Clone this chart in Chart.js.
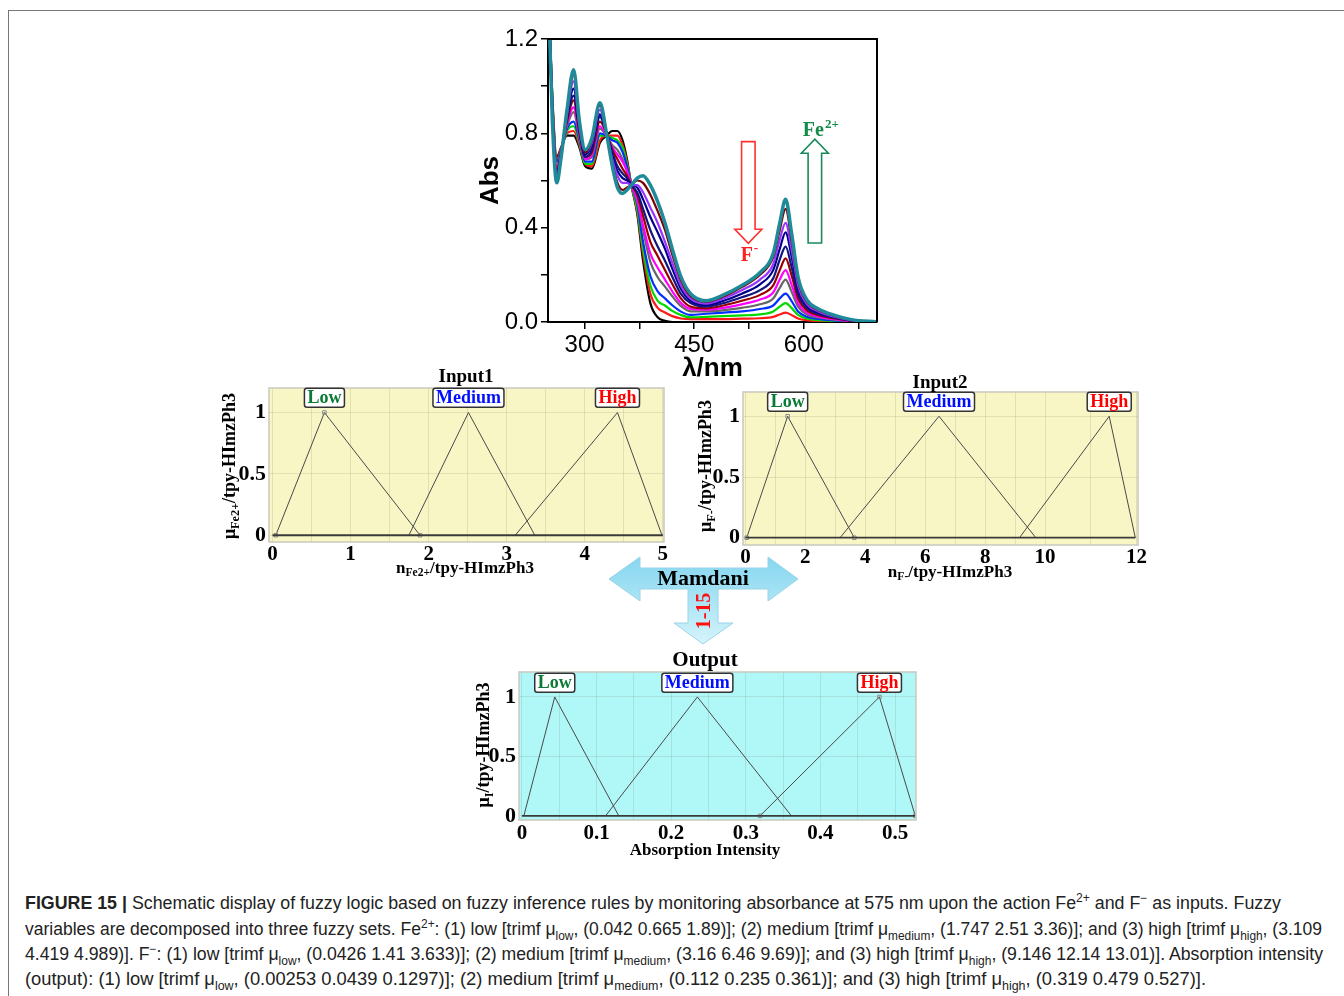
<!DOCTYPE html>
<html>
<head>
<meta charset="utf-8">
<script src="https://cdn.jsdelivr.net/npm/chart.js@4.4.1/dist/chart.umd.min.js"></script>
<style>
html, body { margin: 0; padding: 0; background: #fff; }
body { width: 1344px; height: 996px; position: relative; overflow: hidden; font-family: "Liberation Serif", serif; }
.box { position: absolute; }
.frameT { position: absolute; left: 8px; top: 10px; right: 0; height: 0; border-top: 1.5px solid #777; }
.frameL { position: absolute; left: 8px; top: 10px; bottom: 0; width: 0; border-left: 1.5px solid #777; }
.t { position: absolute; font-weight: bold; white-space: nowrap; color: #000; line-height: 1; z-index: 5; }
.ctr { transform: translate(-50%, -50%); }
.rot { transform: translate(-50%, -50%) rotate(-90deg); }
.t sub { font-size: 68%; vertical-align: -0.3em; line-height: 0; }
.cap { position: absolute; left: 25px; white-space: nowrap; font-family: "Liberation Sans", sans-serif; font-size: 17.5px; line-height: 22px; color: #222; transform-origin: 0 50%; }
.cap sup, .cap sub { font-size: 68%; line-height: 0; }
svg { position: absolute; left: 0; top: 0; z-index: 3; }
</style>
</head>
<body>
<div class="frameT"></div>
<div class="frameL"></div>

<div class="box" style="left:470px;top:20px;width:420px;height:370px"><canvas id="spec" width="420" height="370"></canvas></div>
<div class="box" style="left:225px;top:380px;width:450px;height:190px"><canvas id="in1" width="450" height="190"></canvas></div>
<div class="box" style="left:700px;top:384px;width:455px;height:186px"><canvas id="in2" width="455" height="186"></canvas></div>
<div class="box" style="left:480px;top:664px;width:450px;height:181px"><canvas id="out" width="450" height="181"></canvas></div>

<svg width="1344" height="996">
  <defs>
    <linearGradient id="mg" x1="0" y1="0" x2="0" y2="1">
      <stop offset="0" stop-color="#86d6f0"/>
      <stop offset="0.45" stop-color="#a6e3f5"/>
      <stop offset="1" stop-color="#d6f4fb"/>
    </linearGradient>
  </defs>
  <polygon points="609,579 640,557 640,568 768,568 768,557 798,579 768,601 768,589 718,589 718,623 733,623 703,644 674,623 688,623 688,589 640,589 640,601"
           fill="url(#mg)" stroke="#9ad3e6" stroke-width="1"/>
</svg>

<div class="t ctr" style="left:466px;top:375px;font-size:19px">Input1</div>
<div class="t ctr" style="left:465px;top:567px;font-size:17px">n<sub>Fe2+</sub>/tpy-HImzPh3</div>
<div class="t rot" style="left:229px;top:466px;font-size:18px">μ<sub>Fe2+</sub>/tpy-HImzPh3</div>

<div class="t ctr" style="left:940px;top:381px;font-size:19px">Input2</div>
<div class="t ctr" style="left:950px;top:571px;font-size:17px">n<sub>F-</sub>/tpy-HImzPh3</div>
<div class="t rot" style="left:705px;top:466px;font-size:18px">μ<sub>F-</sub>/tpy-HImzPh3</div>

<div class="t ctr" style="left:705px;top:659px;font-size:21px">Output</div>
<div class="t ctr" style="left:705px;top:849px;font-size:17px">Absorption Intensity</div>
<div class="t rot" style="left:483px;top:745px;font-size:18px">μ<sub>I</sub>/tpy-HImzPh3</div>

<div class="t ctr" style="left:703px;top:578px;font-size:22px">Mamdani</div>
<div class="t rot" style="left:703px;top:611px;font-size:20px;color:#ff1010">1-15</div>

<div class="cap" data-w="1256" style="top:892px"><b>FIGURE 15 |</b> Schematic display of fuzzy logic based on fuzzy inference rules by monitoring absorbance at 575 nm upon the action Fe<sup>2+</sup> and F<sup>−</sup> as inputs. Fuzzy</div>
<div class="cap" data-w="1297" style="top:918px">variables are decomposed into three fuzzy sets. Fe<sup>2+</sup>: (1) low [trimf μ<sub>low</sub>, (0.042 0.665 1.89)]; (2) medium [trimf μ<sub>medium</sub>, (1.747 2.51 3.36)]; and (3) high [trimf μ<sub>high</sub>, (3.109</div>
<div class="cap" data-w="1298" style="top:943px">4.419 4.989)]. F<sup>−</sup>: (1) low [trimf μ<sub>low</sub>, (0.0426 1.41 3.633)]; (2) medium [trimf μ<sub>medium</sub>, (3.16 6.46 9.69)]; and (3) high [trimf μ<sub>high</sub>, (9.146 12.14 13.01)]. Absorption intensity</div>
<div class="cap" data-w="1181" style="top:968px">(output): (1) low [trimf μ<sub>low</sub>, (0.00253 0.0439 0.1297)]; (2) medium [trimf μ<sub>medium</sub>, (0.112 0.235 0.361)]; and (3) high [trimf μ<sub>high</sub>, (0.319 0.479 0.527)].</div>

<script>
// ---- absorption spectra ----
const WAVELENGTH = [250, 256, 262, 268, 276, 285, 293, 301, 310, 321, 330, 338, 345, 352, 358, 364, 372, 380, 390, 400,
                    410, 420, 432, 445, 466, 490, 515, 540, 558, 567, 575, 583, 592, 605, 620, 640, 665, 700];
const ABS_BLACK   = [1.45, .95, .70, .74, .79, .79, .74, .66, .65, .76, .79, .81, .81, .77, .69, .58, .46, .26, .08, .02, .005, 0, 0, 0, 0, 0, 0, 0, 0, 0, 0, 0, 0, 0, 0, 0, 0, 0];
const ABS_RED     = [1.45, .94, .69, .74, .80, .81, .75, .67, .66, .77, .79, .79, .79, .75, .68, .58, .47, .29, .12, .06, .04, .025, .015, .012, .012, .012, .014, .016, .022, .032, .04, .03, .015, .007, .004, .002, .001, 0];
const ABS_GREEN   = [1.45, .94, .68, .73, .81, .83, .76, .67, .67, .79, .79, .78, .77, .74, .67, .58, .48, .31, .155, .09, .07, .047, .029, .02, .022, .025, .028, .032, .045, .065, .08, .06, .03, .014, .008, .005, .002, 0];
const ABS_BLUE    = [1.45, .93, .68, .73, .82, .85, .77, .68, .68, .80, .79, .77, .76, .72, .66, .58, .50, .34, .195, .13, .10, .071, .044, .03, .035, .04, .045, .055, .07, .10, .12, .09, .045, .021, .013, .007, .002, 0];
const ABS_GRAY    = [1.45, .92, .66, .73, .83, .89, .78, .69, .70, .82, .79, .75, .73, .69, .64, .58, .51, .39, .255, .19, .15, .109, .067, .045, .045, .05, .06, .075, .10, .145, .18, .13, .065, .031, .019, .01, .004, 0];
const ABS_MAGENTA = [1.45, .91, .65, .72, .84, .91, .79, .69, .71, .83, .79, .74, .71, .68, .64, .58, .52, .41, .29, .23, .18, .13, .08, .055, .052, .06, .075, .095, .125, .18, .22, .16, .08, .038, .023, .013, .004, 0];
const ABS_BROWN   = [1.45, .90, .64, .72, .85, .94, .80, .70, .72, .85, .80, .73, .69, .65, .62, .58, .54, .45, .34, .28, .22, .161, .099, .065, .058, .07, .09, .115, .155, .22, .27, .20, .10, .047, .029, .016, .005, 0];
const ABS_NAVY    = [1.45, .89, .63, .72, .86, .96, .81, .70, .73, .87, .80, .72, .66, .63, .61, .58, .55, .48, .39, .32, .26, .192, .118, .08, .065, .08, .105, .135, .185, .265, .32, .235, .118, .056, .034, .019, .006, 0];
const ABS_INDIGO  = [1.45, .88, .62, .71, .87, .99, .82, .71, .75, .88, .80, .70, .64, .61, .60, .58, .57, .52, .445, .38, .31, .226, .139, .09, .072, .09, .12, .16, .22, .31, .38, .28, .14, .066, .04, .022, .007, 0];
const ABS_VIOLET  = [1.45, .87, .61, .71, .88, 1.02, .83, .72, .76, .90, .80, .69, .62, .59, .59, .58, .58, .55, .485, .42, .34, .251, .154, .10, .078, .10, .135, .18, .245, .35, .42, .31, .155, .073, .045, .024, .008, 0];
const ABS_MAROON  = [1.45, .86, .60, .70, .89, 1.05, .84, .72, .77, .92, .80, .67, .59, .56, .57, .58, .60, .59, .54, .47, .39, .285, .175, .11, .085, .108, .148, .20, .275, .39, .48, .35, .175, .083, .051, .028, .009, 0];
const ABS_TEAL    = [1.45, .85, .59, .70, .90, 1.07, .85, .73, .78, .93, .80, .66, .57, .545, .56, .58, .61, .62, .58, .51, .42, .31, .19, .12, .09, .115, .155, .21, .29, .42, .52, .38, .19, .09, .055, .03, .01, 0];

const SPEC_SERIES = [ABS_BLACK, ABS_RED, ABS_GREEN, ABS_BLUE, ABS_GRAY, ABS_MAGENTA, ABS_BROWN, ABS_NAVY, ABS_INDIGO, ABS_VIOLET, ABS_MAROON, ABS_TEAL];
const SPEC_COLORS = ['#000000', '#ff1a1a', '#00d800', '#0030ff', '#666666', '#ff00ff', '#990000', '#141480', '#00008c', '#9933ff', '#7a0000', '#1f8a99'];

const X_SPEC_TICKS = [300, 375, 450, 525, 600, 675];
const X_SPEC_LABELS = ['300', '', '450', '', '600', ''];
const Y_SPEC_TICKS = [0, 0.2, 0.4, 0.6, 0.8, 1.0, 1.2];
const Y_SPEC_LABELS = ['0.0', '', '0.4', '', '0.8', '', '1.2'];

// arrows inside the spectrum (value coordinates)
const F_ARROW = { x: 524, from: 0.765, to: 0.334 };
const FE_ARROW = { x: 615, from: 0.335, to: 0.775 };
const F_LABEL = { x: 526, y: 0.26 };
const FE_LABEL = { x: 598.5, y: 0.79 };

// ---- fuzzy membership functions (trimf a b c) ----
const MF_Y = [0, 1, 0];
const IN1_LOW = [0.042, 0.665, 1.89];
const IN1_MED = [1.747, 2.51, 3.36];
const IN1_HIGH = [3.109, 4.419, 4.989];
const IN1_BASE = [0, 5];
const IN1_XTICKS = [0, 1, 2, 3, 4, 5];
const IN1_XLABELS = ['0', '1', '2', '3', '4', '5'];

const IN2_LOW = [0.0426, 1.41, 3.633];
const IN2_MED = [3.16, 6.46, 9.69];
const IN2_HIGH = [9.146, 12.14, 13.01];
const IN2_BASE = [0, 13.01];
const IN2_XTICKS = [0, 2, 4, 6, 8, 10, 13.05];
const IN2_XLABELS = ['0', '2', '4', '6', '8', '10', '12'];

const OUT_LOW = [0.00253, 0.0439, 0.1297];
const OUT_MED = [0.112, 0.235, 0.361];
const OUT_HIGH = [0.319, 0.479, 0.527];
const OUT_BASE = [0, 0.527];
const OUT_XTICKS = [0, 0.1, 0.2, 0.3, 0.4, 0.5];
const OUT_XLABELS = ['0', '0.1', '0.2', '0.3', '0.4', '0.5'];

const MF_YTICKS = [0, 0.5, 1];
const MF_YLABELS = ['0', '0.5', '1'];
const MF_NAMES = ['Low', 'Medium', 'High'];
const MF_NAME_COLORS = ['#0a7a35', '#0010ff', '#ff0000'];

Chart.defaults.color = '#000';
Chart.defaults.animation = false;

function hollowArrow(ctx, cx, y0, y1, color) {
  const shaftW = 13.5, headW = 27, headL = 14;
  const dir = y1 > y0 ? 1 : -1;
  const hb = y1 - dir * headL;
  ctx.beginPath();
  ctx.moveTo(cx - shaftW / 2, y0);
  ctx.lineTo(cx - shaftW / 2, hb);
  ctx.lineTo(cx - headW / 2, hb);
  ctx.lineTo(cx, y1);
  ctx.lineTo(cx + headW / 2, hb);
  ctx.lineTo(cx + shaftW / 2, hb);
  ctx.lineTo(cx + shaftW / 2, y0);
  ctx.closePath();
  ctx.fillStyle = '#fff';
  ctx.fill();
  ctx.strokeStyle = color;
  ctx.lineWidth = 1.6;
  ctx.stroke();
}

const specDecor = {
  id: 'specDecor',
  afterDraw(chart) {
    const { ctx, chartArea: a, scales: { x, y } } = chart;
    ctx.save();
    ctx.strokeStyle = '#000';
    ctx.lineWidth = 2;
    ctx.beginPath();
    ctx.moveTo(a.left, a.top); ctx.lineTo(a.right, a.top); ctx.lineTo(a.right, a.bottom);
    ctx.stroke();
    hollowArrow(ctx, x.getPixelForValue(F_ARROW.x), y.getPixelForValue(F_ARROW.from), y.getPixelForValue(F_ARROW.to), '#ff3030');
    hollowArrow(ctx, x.getPixelForValue(FE_ARROW.x), y.getPixelForValue(FE_ARROW.from), y.getPixelForValue(FE_ARROW.to), '#1a8a5a');

    ctx.textBaseline = 'alphabetic';
    ctx.fillStyle = '#ff2020';
    ctx.font = 'bold 20px "Liberation Serif"';
    let px = x.getPixelForValue(F_LABEL.x), py = y.getPixelForValue(F_LABEL.y);
    ctx.textAlign = 'center';
    ctx.fillText('F', px - 3, py);
    ctx.font = 'bold 13px "Liberation Serif"';
    ctx.textAlign = 'left';
    ctx.fillText('-', px + 4, py - 9);

    ctx.fillStyle = '#128a48';
    ctx.font = 'bold 20px "Liberation Serif"';
    px = x.getPixelForValue(FE_LABEL.x); py = y.getPixelForValue(FE_LABEL.y);
    ctx.fillText('Fe', px, py);
    const w = ctx.measureText('Fe').width;
    ctx.font = 'bold 13px "Liberation Serif"';
    ctx.fillText('2+', px + w + 1, py - 8);
    ctx.restore();
  }
};

new Chart(document.getElementById('spec'), {
  type: 'scatter',
  data: {
    datasets: SPEC_SERIES.map((s, i) => ({
      data: WAVELENGTH.map((w, k) => ({ x: w, y: s[k] })),
      showLine: true,
      borderColor: SPEC_COLORS[i],
      borderWidth: i === SPEC_SERIES.length - 1 ? 3.5 : 2.2,
      pointRadius: 0,
      cubicInterpolationMode: 'monotone',
      order: SPEC_SERIES.length - i
    }))
  },
  options: {
    responsive: false,
    layout: { padding: { top: 19, right: 13, left: 0, bottom: 0 } },
    plugins: { legend: { display: false }, tooltip: { enabled: false } },
    scales: {
      x: {
        type: 'linear', min: 250, max: 700,
        afterBuildTicks(s) { s.ticks = X_SPEC_TICKS.map(v => ({ value: v })); },
        afterFit(s) { s.height = 68; s.paddingLeft = 0; s.paddingRight = 0; },
        ticks: { autoSkip: false, maxRotation: 0, padding: 2, font: { family: 'Liberation Sans', size: 24 },
                 callback: (v, i) => X_SPEC_LABELS[i] },
        grid: { drawOnChartArea: false, tickLength: 7, color: '#000', lineWidth: 1.5 },
        border: { color: '#000', width: 2 },
        title: { display: true, text: 'λ/nm', font: { family: 'Liberation Sans', size: 26, weight: 'bold' }, padding: { top: 0, bottom: 6 } }
      },
      y: {
        min: 0, max: 1.2,
        afterBuildTicks(s) { s.ticks = Y_SPEC_TICKS.map(v => ({ value: v })); },
        afterFit(s) { s.width = 78; s.paddingTop = 0; s.paddingBottom = 0; },
        ticks: { autoSkip: false, padding: 3, font: { family: 'Liberation Sans', size: 24 },
                 callback: (v, i) => Y_SPEC_LABELS[i] },
        grid: { drawOnChartArea: false, tickLength: 7, color: '#000', lineWidth: 1.5 },
        border: { color: '#000', width: 2 },
        title: { display: true, text: 'Abs', font: { family: 'Liberation Sans', size: 26, weight: 'bold' }, padding: { top: 5, bottom: 0 } }
      }
    }
  },
  plugins: [specDecor]
});

// ---- fuzzy charts ----
const fuzzyDecor = {
  id: 'fuzzyDecor',
  beforeDraw(chart, args, o) {
    const a = chart.chartArea, ctx = chart.ctx;
    ctx.save();
    ctx.fillStyle = o.bg;
    ctx.fillRect(a.left, a.top, a.right - a.left, a.bottom - a.top);
    ctx.restore();
  },
  afterDraw(chart, args, o) {
    const a = chart.chartArea, ctx = chart.ctx, x = chart.scales.x, y = chart.scales.y;
    ctx.save();
    ctx.strokeStyle = '#c9c9c0';
    ctx.lineWidth = 1.5;
    ctx.strokeRect(a.left, a.top, a.right - a.left, a.bottom - a.top);
    ctx.font = 'bold 18px "Liberation Serif"';
    ctx.textAlign = 'center';
    ctx.textBaseline = 'middle';
    o.peaks.forEach((p, i) => {
      const t = MF_NAMES[i];
      const cx = x.getPixelForValue(p), cy = y.getPixelForValue(1.12);
      const w = ctx.measureText(t).width + 6, h = 19;
      ctx.beginPath();
      ctx.roundRect(cx - w / 2, cy - h / 2, w, h, 2.5);
      ctx.fillStyle = '#fff';
      ctx.fill();
      ctx.strokeStyle = '#333';
      ctx.lineWidth = 1.5;
      ctx.stroke();
      ctx.fillStyle = MF_NAME_COLORS[i];
      ctx.fillText(t, cx, cy + 1);
    });
    ctx.restore();
  }
};

function fuzzyChart(id, g) {
  const sets = [g.low, g.med, g.high];
  const datasets = [{
    data: g.base.map(v => ({ x: v, y: 0 })), showLine: true,
    borderColor: '#3a3a3a', borderWidth: 1.8, pointRadius: 0
  }];
  sets.forEach((s, i) => datasets.push({
    data: s.map((v, k) => ({ x: v, y: MF_Y[k] })), showLine: true,
    borderColor: '#4a4a4a', borderWidth: 1,
    pointStyle: 'rect', pointRadius: i === g.marked ? 2.5 : 0,
    pointBorderColor: '#8a8a8a', pointBackgroundColor: 'rgba(0,0,0,0)', pointBorderWidth: 1
  }));
  new Chart(document.getElementById(id), {
    type: 'scatter',
    data: { datasets },
    options: {
      responsive: false,
      layout: { padding: { top: g.padTop, right: g.padRight, left: 0, bottom: 0 } },
      plugins: { legend: { display: false }, tooltip: { enabled: false },
                 fuzzyDecor: { bg: g.bg, peaks: sets.map(s => s[1]) } },
      scales: {
        x: {
          type: 'linear', min: g.xmin, max: g.xmax,
          afterBuildTicks(s) {
            const t = [];
            g.xticks.forEach((v, i) => {
              t.push({ value: v });
              if (i < g.xticks.length - 1) t.push({ value: (v + g.xticks[i + 1]) / 2 });
            });
            s.ticks = t;
          },
          afterFit(s) { s.height = g.xH; s.paddingLeft = 0; s.paddingRight = 0; },
          ticks: { autoSkip: false, maxRotation: 0, padding: g.xPad, font: { family: 'Liberation Serif', size: 21, weight: 'bold' },
                   callback: (v, i) => (i % 2 === 0 ? g.xlabels[i / 2] : '') },
          grid: { drawTicks: false, color: 'rgba(110,110,80,0.16)', lineWidth: 1 },
          border: { display: false }
        },
        y: {
          min: g.ymin, max: g.ymax,
          afterBuildTicks(s) { s.ticks = MF_YTICKS.map(v => ({ value: v })); },
          afterFit(s) { s.width = g.yW; s.paddingTop = 0; s.paddingBottom = 0; },
          ticks: { autoSkip: false, padding: 3, font: { family: 'Liberation Serif', size: 22, weight: 'bold' },
                   callback: (v, i) => MF_YLABELS[i] },
          grid: { drawTicks: false, color: 'rgba(110,110,80,0.16)', lineWidth: 1 },
          border: { display: false }
        }
      }
    },
    plugins: [fuzzyDecor]
  });
}

fuzzyChart('in1', { low: IN1_LOW, med: IN1_MED, high: IN1_HIGH, base: IN1_BASE, marked: 0,
  xticks: IN1_XTICKS, xlabels: IN1_XLABELS, xmin: -0.045, xmax: 5.015, ymin: -0.055, ymax: 1.2,
  bg: '#f8f6c4', yW: 44, xH: 28, xPad: 0, padTop: 8, padRight: 11 });
fuzzyChart('in2', { low: IN2_LOW, med: IN2_MED, high: IN2_HIGH, base: IN2_BASE, marked: 0,
  xticks: IN2_XTICKS, xlabels: IN2_XLABELS, xmin: -0.08, xmax: 13.1, ymin: -0.06, ymax: 1.2,
  bg: '#f8f6c4', yW: 43, xH: 25, xPad: 0, padTop: 8, padRight: 17 });
fuzzyChart('out', { low: OUT_LOW, med: OUT_MED, high: OUT_HIGH, base: OUT_BASE, marked: 2,
  xticks: OUT_XTICKS, xlabels: OUT_XLABELS, xmin: -0.004, xmax: 0.528, ymin: -0.035, ymax: 1.21,
  bg: '#b0f7f8', yW: 39, xH: 25, xPad: 1, padTop: 8, padRight: 14 });

// fit caption lines to their measured widths
document.querySelectorAll('.cap').forEach(el => {
  const w = +el.dataset.w;
  const cur = el.getBoundingClientRect().width;
  el.style.transform = 'scaleX(' + (w / cur) + ')';
});
</script>
</body>
</html>
